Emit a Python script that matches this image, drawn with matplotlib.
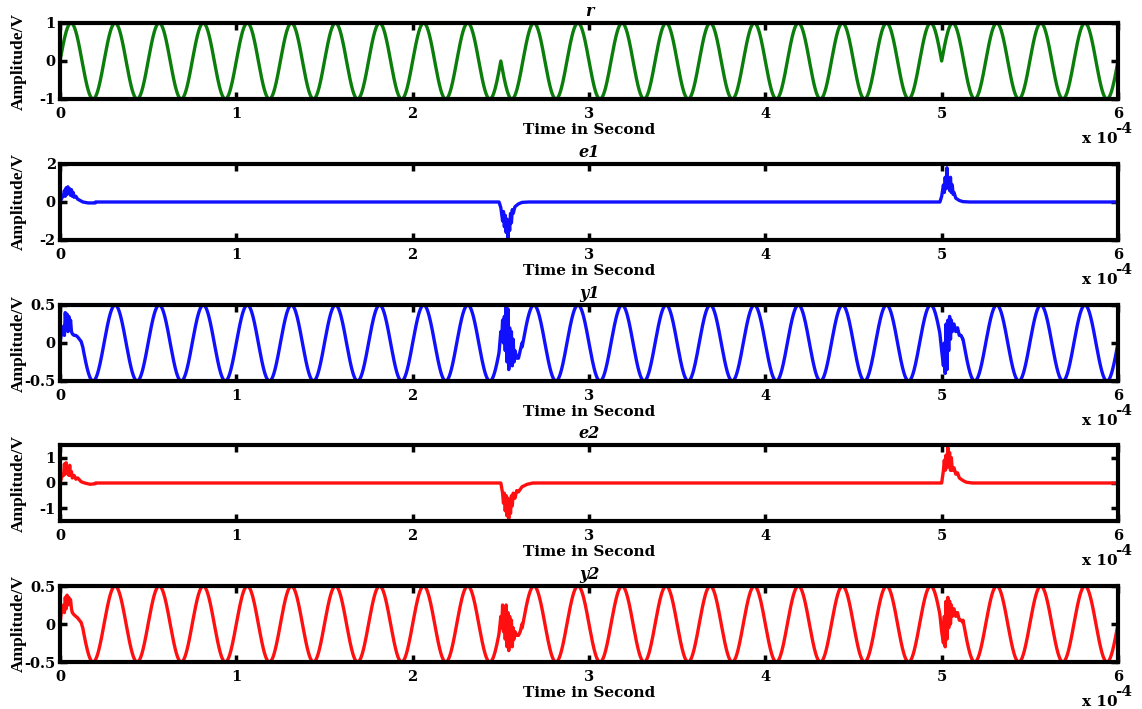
import numpy as np
import matplotlib
matplotlib.use("Agg")
import matplotlib.pyplot as plt

plt.rcParams["font.family"] = ["DejaVu Serif"]
plt.rcParams["font.weight"] = "bold"

# carrier: 24 cycles over 6e-4 s, phase flips at 2.5e-4 and 5e-4
carrier_freq = 40e3
flip_times = [2.5e-4, 5e-4]
t_end = 6e-4
r_amp = 1.0
y_amp = 0.5

# transients (time in 1e-4 s, value)
e1_start_t = [0, 0.01, 0.02, 0.025, 0.03, 0.035, 0.04, 0.045, 0.05, 0.055, 0.06, 0.065, 0.07, 0.075, 0.08, 0.09, 0.10, 0.11, 0.13, 0.16, 0.20]
e1_start_v = [0, 0.2, 0.35, 0.6, 0.3, 0.75, 0.4, 0.8, 0.45, 0.7, 0.35, 0.65, 0.3, 0.5, 0.25, 0.3, 0.15, 0.1, 0.0, -0.05, -0.05]
e1_mid_t = [2.49, 2.50, 2.51, 2.515, 2.52, 2.525, 2.53, 2.535, 2.54, 2.545, 2.55, 2.555, 2.56, 2.565, 2.57, 2.58, 2.60, 2.62, 2.65]
e1_mid_v = [0, -0.3, -1.0, -0.5, -1.3, -0.7, -1.6, -0.9, -1.9, -1.0, -1.5, -0.6, -1.1, -0.4, -0.6, -0.25, -0.1, -0.02, 0]
e1_end_t = [4.99, 5.00, 5.01, 5.015, 5.02, 5.025, 5.03, 5.035, 5.04, 5.045, 5.05, 5.055, 5.06, 5.065, 5.07, 5.08, 5.10, 5.12, 5.15]
e1_end_v = [0, 0.3, 0.9, 0.5, 1.3, 0.7, 1.8, 0.8, 1.2, 0.6, 1.3, 0.5, 0.9, 0.4, 0.5, 0.2, 0.08, 0.02, 0]

e2_start_t = [0, 0.01, 0.02, 0.025, 0.03, 0.035, 0.04, 0.045, 0.05, 0.055, 0.06, 0.065, 0.07, 0.08, 0.09, 0.10, 0.12, 0.14, 0.17, 0.20]
e2_start_v = [0, 0.25, 0.3, 0.75, 0.35, 0.8, 0.4, 0.65, 0.3, 0.7, 0.3, 0.45, 0.2, 0.3, 0.15, 0.2, 0.05, 0.0, -0.05, -0.03]
e2_mid_t = [2.50, 2.51, 2.515, 2.52, 2.525, 2.53, 2.535, 2.54, 2.545, 2.55, 2.555, 2.56, 2.565, 2.57, 2.58, 2.59, 2.60, 2.62, 2.65, 2.68]
e2_mid_v = [0, -0.4, -0.8, -0.4, -1.1, -0.5, -1.3, -0.6, -1.4, -0.7, -1.2, -0.5, -0.9, -0.4, -0.6, -0.3, -0.35, -0.15, -0.05, 0]
e2_end_t = [5.00, 5.01, 5.015, 5.02, 5.025, 5.03, 5.035, 5.04, 5.045, 5.05, 5.055, 5.06, 5.07, 5.08, 5.09, 5.10, 5.12, 5.14, 5.17]
e2_end_v = [0, 0.5, 0.9, 0.5, 1.1, 0.6, 1.4, 0.7, 1.2, 0.5, 1.0, 0.5, 0.6, 0.35, 0.4, 0.2, 0.1, 0.03, 0]

y1_start_t = [0, 0.01, 0.02, 0.025, 0.03, 0.035, 0.04, 0.045, 0.05, 0.055, 0.06, 0.065, 0.07, 0.08, 0.09, 0.10, 0.11, 0.12, 0.13]
y1_start_v = [0, 0.15, 0.22, 0.1, 0.4, 0.2, 0.38, 0.15, 0.35, 0.2, 0.3, 0.15, 0.12, 0.1, 0.1, 0.08, 0.05, 0.02, -0.06]
y1_mid_t = [2.49, 2.50, 2.505, 2.51, 2.515, 2.52, 2.525, 2.53, 2.535, 2.54, 2.545, 2.55, 2.555, 2.56, 2.565, 2.57, 2.575, 2.58, 2.59, 2.60, 2.61, 2.62]
y1_mid_v = [-0.12, 0.15, 0.05, 0.3, 0.0, 0.35, -0.1, 0.5, -0.25, 0.45, -0.35, 0.2, -0.2, 0.15, -0.3, 0.05, -0.25, -0.1, -0.2, -0.2, -0.1, 0.0]
y1_end_t = [4.99, 5.00, 5.01, 5.015, 5.02, 5.025, 5.03, 5.035, 5.04, 5.045, 5.05, 5.055, 5.06, 5.07, 5.08, 5.09, 5.10, 5.11, 5.12]
y1_end_v = [0.12, -0.1, -0.3, 0.0, -0.4, 0.25, -0.35, 0.3, -0.1, 0.35, 0.05, 0.3, 0.15, 0.25, 0.15, 0.2, 0.1, 0.1, 0.05]

y2_start_t = [0, 0.01, 0.02, 0.025, 0.03, 0.035, 0.04, 0.045, 0.05, 0.055, 0.06, 0.065, 0.07, 0.08, 0.09, 0.10, 0.11, 0.12, 0.13]
y2_start_v = [0, 0.2, 0.25, 0.15, 0.35, 0.2, 0.38, 0.25, 0.35, 0.3, 0.32, 0.2, 0.15, 0.12, 0.1, 0.08, 0.05, 0.02, -0.06]
y2_mid_t = [2.49, 2.50, 2.505, 2.51, 2.515, 2.52, 2.525, 2.53, 2.535, 2.54, 2.545, 2.55, 2.555, 2.56, 2.565, 2.57, 2.575, 2.58, 2.59, 2.60, 2.61, 2.62]
y2_mid_v = [-0.12, 0.1, -0.05, 0.25, -0.1, 0.2, -0.2, 0.25, -0.3, 0.15, -0.35, 0.1, -0.25, 0.05, -0.3, -0.05, -0.2, -0.1, -0.15, -0.15, -0.1, 0.0]
y2_end_t = [4.99, 5.00, 5.01, 5.015, 5.02, 5.025, 5.03, 5.035, 5.04, 5.045, 5.05, 5.055, 5.06, 5.07, 5.08, 5.09, 5.10, 5.11, 5.12]
y2_end_v = [0.12, -0.1, -0.25, 0.1, -0.3, 0.3, -0.2, 0.35, -0.05, 0.3, 0.0, 0.25, 0.1, 0.2, 0.1, 0.15, 0.05, 0.05, 0.02]

titles = ["r", "e1", "y1", "e2", "y2"]
ylims = [(-1, 1), (-2, 2), (-0.5, 0.5), (-1.5, 1.5), (-0.5, 0.5)]
yticks = [[-1, 0, 1], [-2, 0, 2], [-0.5, 0, 0.5], [-1, 0, 1], [-0.5, 0, 0.5]]
ytick_labels = [["-1", "0", "1"], ["-2", "0", "2"], ["-0.5", "0", "0.5"], ["-1", "0", "1"], ["-0.5", "0", "0.5"]]
xtick_labels = ["0", "1", "2", "3", "4", "5", "6"]
colors = ["#0b7d0b", "#1010ff", "#1010ff", "#ff0f0f", "#ff0f0f"]

t = np.linspace(0, t_end, 6001)
sign = np.ones_like(t)
sign[(t >= flip_times[0]) & (t < flip_times[1])] = -1
carrier = sign * np.sin(2 * np.pi * carrier_freq * t)


def splice(base, pieces):
    # replace the carrier inside each window by the points
    keep = np.ones_like(t, dtype=bool)
    tt, vv = [], []
    for pt, pv in pieces:
        pt = np.array(pt) * 1e-4
        keep &= ~((t >= pt[0]) & (t <= pt[-1]))
        tt.append(pt)
        vv.append(np.array(pv))
    tt = np.concatenate([t[keep]] + tt)
    vv = np.concatenate([base[keep]] + vv)
    order = np.argsort(tt, kind="stable")
    return tt[order], vv[order]


zero = np.zeros_like(t)
series = [
    (t, r_amp * carrier),
    splice(zero, [(e1_start_t, e1_start_v), (e1_mid_t, e1_mid_v), (e1_end_t, e1_end_v)]),
    splice(y_amp * carrier, [(y1_start_t, y1_start_v), (y1_mid_t, y1_mid_v), (y1_end_t, y1_end_v)]),
    splice(zero, [(e2_start_t, e2_start_v), (e2_mid_t, e2_mid_v), (e2_end_t, e2_end_v)]),
    splice(y_amp * carrier, [(y2_start_t, y2_start_v), (y2_mid_t, y2_mid_v), (y2_end_t, y2_end_v)]),
]

W, H = 1142, 709
fig = plt.figure(figsize=(W / 100, H / 100), dpi=100)
tops = [23, 164, 305, 445, 586]
for i in range(5):
    ax = fig.add_axes([60 / W, 1 - (tops[i] + 76) / H, 1058 / W, 76 / H])
    xs, ys = series[i]
    ax.plot(xs, ys, color=colors[i], lw=2.4)
    ax.set_xlim(0, t_end)
    ax.set_ylim(*ylims[i])
    ax.set_xticks(np.arange(7) * 1e-4)
    ax.set_xticklabels(xtick_labels)
    ax.set_yticks(yticks[i])
    ax.set_yticklabels(ytick_labels[i])
    ax.tick_params(direction="in", length=5, width=2.5, top=True, right=True,
                   labelsize=10.5, pad=3)
    ax.tick_params(axis="x", pad=6)
    for s in ax.spines.values():
        s.set_linewidth(3)
    ax.set_title(titles[i], fontsize=11.5, fontstyle="italic", fontweight="bold", pad=5)
    ax.set_xlabel("Time in Second", fontsize=11, fontweight="bold", labelpad=1)
    ax.set_ylabel("Amplitude/V", fontsize=12.5, fontweight="bold",
                  family="Liberation Serif")
    ax.yaxis.set_label_coords(-0.031, 0.5)
    ax.text(1.0, -0.52, "x 10", transform=ax.transAxes, ha="right", va="center",
            fontsize=11, fontweight="bold")
    ax.text(0.997, -0.39, "-4", transform=ax.transAxes, ha="left", va="center",
            fontsize=11, fontweight="bold")

fig.savefig("out.png", dpi=100)
